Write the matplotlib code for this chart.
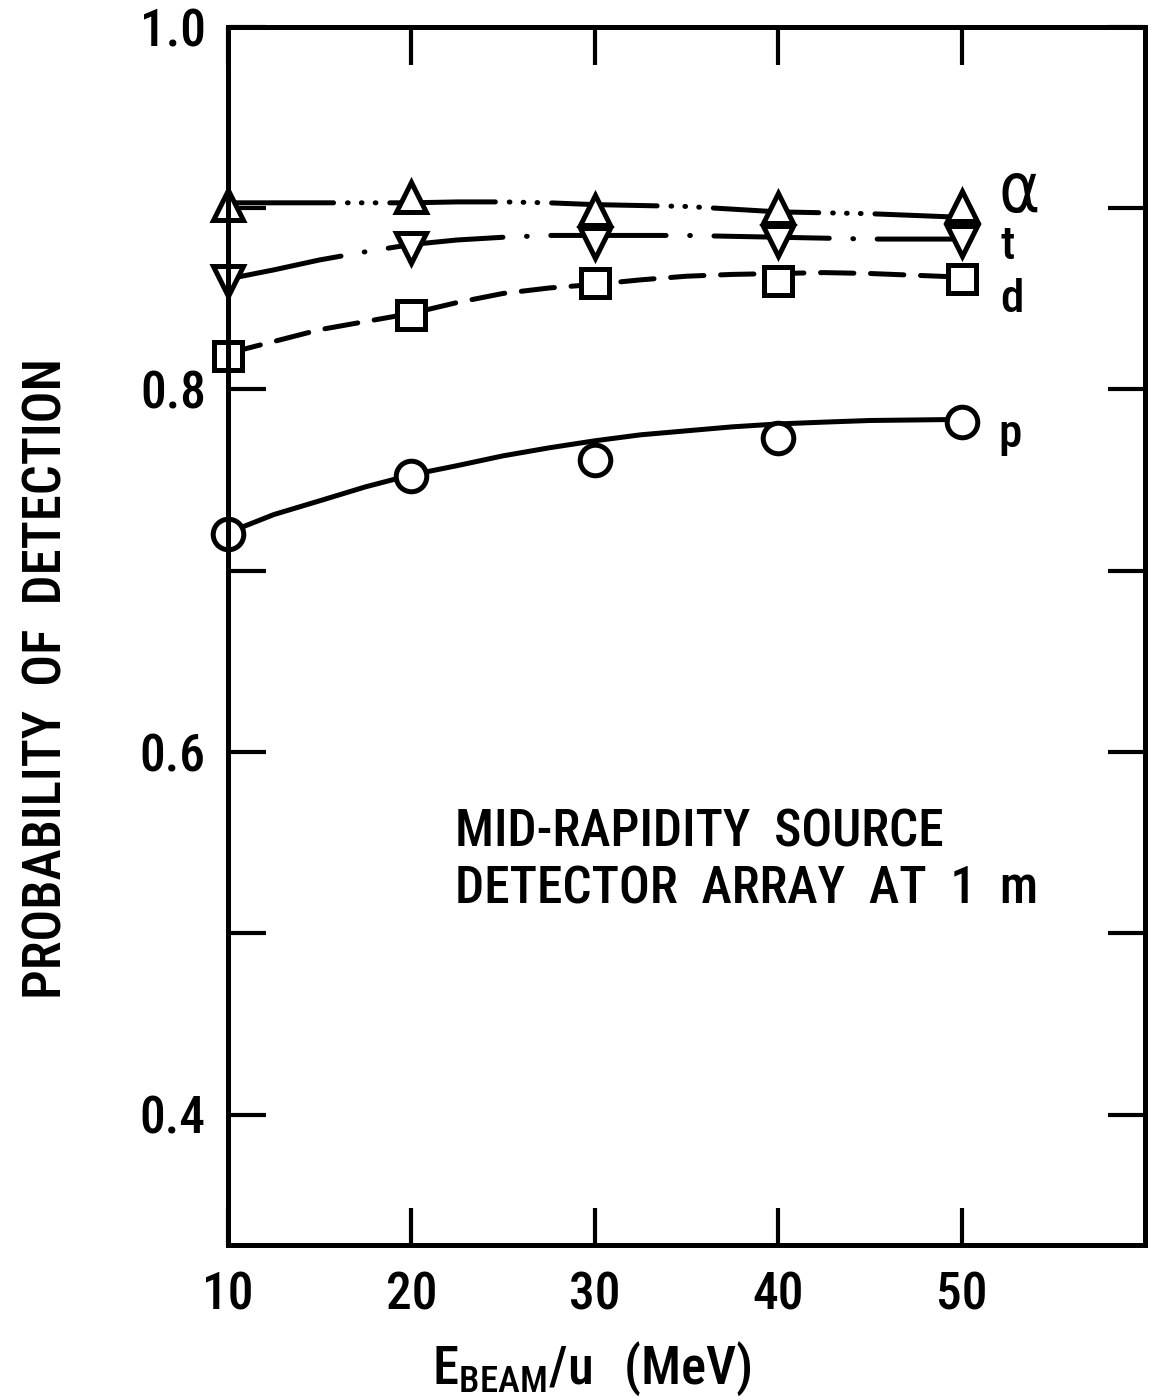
import matplotlib
matplotlib.use("Agg")
import matplotlib.pyplot as plt
from matplotlib.ticker import FixedLocator, FixedFormatter

plt.rcParams['font.family'] = ['Roboto Condensed', 'DejaVu Sans']
plt.rcParams['font.stretch'] = 'condensed'
plt.rcParams['font.weight'] = 'medium'
plt.rcParams['mathtext.fontset'] = 'dejavusans'
plt.rcParams['lines.scale_dashes'] = False

# ---- data ----
energy = [10, 20, 30, 40, 50]
p_alpha = [0.902, 0.906, 0.899, 0.900, 0.901]
p_triton = [0.860, 0.878, 0.881, 0.882, 0.882]
p_deut = [0.8185, 0.841, 0.859, 0.860, 0.861]
p_proton = [0.720, 0.752, 0.761, 0.773, 0.782]

curve_x = [10, 12.5, 15, 17.5, 20, 22.5, 25, 27.5, 30, 32.5, 35, 37.5, 40, 42.5, 45, 47.5, 50]
curve_alpha = [0.903, 0.903, 0.903, 0.903, 0.903, 0.9035, 0.9035, 0.903, 0.902, 0.9015,
               0.901, 0.8995, 0.898, 0.8975, 0.897, 0.896, 0.895]
curve_triton = [0.861, 0.866, 0.8715, 0.876, 0.880, 0.8825, 0.884, 0.885, 0.885, 0.885,
                0.885, 0.8845, 0.884, 0.8835, 0.883, 0.883, 0.883]
curve_deut = [0.820, 0.8265, 0.833, 0.8375, 0.842, 0.848, 0.853, 0.856, 0.858, 0.8605,
              0.8625, 0.8635, 0.864, 0.8645, 0.864, 0.863, 0.862]
curve_proton = [0.721, 0.731, 0.7386, 0.7463, 0.7529, 0.758, 0.7634, 0.7678, 0.7717, 0.775,
                0.7772, 0.7794, 0.781, 0.782, 0.7829, 0.7832, 0.7835]

series_labels = [r'$\mathregular{\alpha}$', 't', 'd', 'p']
x_ticks = [10, 20, 30, 40, 50]
y_ticks = [0.4, 0.5, 0.6, 0.7, 0.8, 0.9, 1.0]
y_ticklabels = ['0.4', '', '0.6', '', '0.8', '', '1.0']
note_lines = ['MID-RAPIDITY  SOURCE', 'DETECTOR  ARRAY  AT  1  m']

fig = plt.figure(figsize=(11.55, 13.98), dpi=100)
ax = fig.add_axes([228/1155, 1 - 1245/1398, (1145-228)/1155, (1245-27)/1398])
ax.set_xlim(10, 60)
ax.set_ylim(0.328, 1.0)

lw = 3.6
ls_alpha = (0, (76, 10, 0.5, 9.5, 0.5, 9.5, 0.5, 10))
ls_triton = (0, (83, 17, 0.5, 17))
ls_deut = (0, (24, 12))

common = dict(color='black', lw=lw, solid_capstyle='round', dash_capstyle='round', clip_on=False, zorder=2)
ax.plot(curve_x, curve_alpha, linestyle=ls_alpha, **common)
ax.plot(curve_x, curve_triton, linestyle=ls_triton, **common)
ax.plot(curve_x, curve_deut, linestyle=ls_deut, **common)
ax.plot(curve_x, curve_proton, linestyle='-', **common)

mk = dict(color='black', linestyle='none', mfc='white', mec='black', mew=3.6, clip_on=False, zorder=2.2)
ax.plot(energy, p_alpha, marker='^', ms=22, **mk)
ax.plot(energy, p_triton, marker='v', ms=22, **mk)
ax.plot(energy, p_deut, marker='s', ms=20, **mk)
ax.plot(energy, p_proton, marker='o', ms=22, **mk)

# series labels at the right end
ax.text(52.0, 0.8978, series_labels[0], fontsize=50, family=['DejaVu Sans'], va='baseline', ha='left')
ax.text(52.1, 0.8718, series_labels[1], fontsize=34, va='baseline', ha='left')
ax.text(52.1, 0.8428, series_labels[2], fontsize=34, va='baseline', ha='left')
ax.text(52.0, 0.7683, series_labels[3], fontsize=34, va='baseline', ha='left')

# annotation
ax.text(22.4, 0.5554, note_lines[0], fontsize=37, va='center', ha='left')
ax.text(22.4, 0.5240, note_lines[1], fontsize=37, va='center', ha='left')

for s in ax.spines.values():
    s.set_linewidth(3.6)

ax.xaxis.set_major_locator(FixedLocator(x_ticks))
ax.set_xticklabels([str(v) for v in x_ticks])
ax.yaxis.set_major_locator(FixedLocator(y_ticks))
ax.yaxis.set_major_formatter(FixedFormatter(y_ticklabels))
ax.tick_params(axis='both', which='major', direction='in', length=27, width=3,
               top=True, right=True, labelsize=37, pad=16)
ax.tick_params(axis='x', pad=18)

ax.set_ylabel('PROBABILITY  OF  DETECTION', fontsize=38, fontweight='medium')
ax.yaxis.set_label_coords(-0.170, 0.4655)
ax.set_xlabel(r'$\mathregular{E_{BEAM}/u\ \ (MeV)}$', fontsize=38, fontweight='medium')
ax.xaxis.set_label_coords(0.397, -0.078)

fig.savefig('out.png', dpi=100)
